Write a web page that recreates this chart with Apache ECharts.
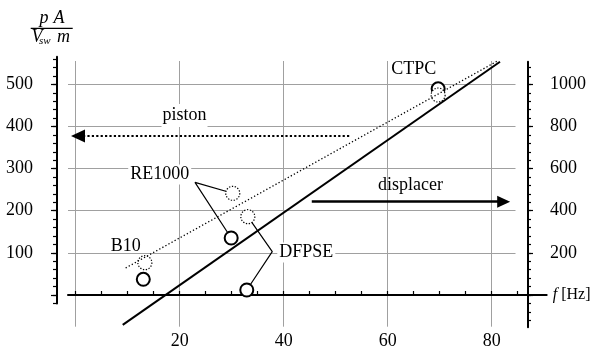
<!DOCTYPE html>
<html><head><meta charset="utf-8">
<script src="https://cdn.jsdelivr.net/npm/echarts@6/dist/echarts.min.js"></script>
<style>html,body{margin:0;padding:0;background:#fff}#c{width:592px;height:352px}</style>
</head><body><div id="c"></div>
<script>
// ---------------- data ----------------
const engines = ['B10', 'RE1000', 'DFPSE', 'CTPC'];
const pistonFreq = [13.3, 30.2, 33.1, 69.7];          // f [Hz]
const pistonValue = [76.7, 241.4, 185.9, 474.7];      // left axis
const displacerFreq = [13.0, 29.9, 32.9, 69.7];       // f [Hz]
const displacerValue = [74.5, 270.6, 23.7, 979];      // right axis
const pistonFitFreq = [9.6, 81.1];
const pistonFitValue = [64.1, 555.4];                 // left axis
const displacerFitFreq = [9.04, 81.6];
const displacerFitValue = [-142, 1107.5];             // right axis
const leftTickLabels = [100, 200, 300, 400, 500];
const rightTickLabels = [200, 400, 600, 800, 1000];
const xTickLabels = [20, 40, 60, 80];
const re1000Anchor = [22.94, 267.5];                  // left-axis units
const dfpseAnchor = [37.8, 102.8];
const pistonArrow = [52.6, 0.44, 377.4];              // from f, to f, left value
const displacerArrow = [45.4, 82.3, 442.9];           // from f, to f, right value

// ---------------- geometry ----------------
const X0 = 75.7, PX = 5.2, Y0 = 295, PY = 0.4213, RATIO = 2;
const fx = p => (p - X0) / PX;
const fy = p => (Y0 - p) / PY;
const FONT = "'Liberation Serif', 'Times New Roman', Times, serif";
const BLACK = '#000';
const GRIDC = '#a0a0a0';

function steps(a, b, s) { const r = []; for (let v = a; v <= b + 1e-9; v += s) r.push(v); return r; }

const main = { left: 68, top: 61, right: 515.5, bottom: 326.7 };
const leftAx = { x: 57, top: 56.7, bottom: Y0 + 20 * PY };
const rightAx = { x: 528, top: 61.7, bottom: 327.3 };
const xAx = { left: 68, right: 546.7 };

const plain = v => String(Math.round(v));
const labelStyle = { fontFamily: FONT, fontSize: 18, color: BLACK, formatter: plain };

const chart = echarts.init(document.getElementById('c'), null, { renderer: 'canvas' });

const option = {
  animation: false,
  backgroundColor: '#fff',
  textStyle: { fontFamily: FONT },
  grid: [
    { left: main.left, top: main.top, width: main.right - main.left, height: main.bottom - main.top },
    { left: leftAx.x, top: leftAx.top, width: 10, height: leftAx.bottom - leftAx.top },
    { left: rightAx.x - 8, top: rightAx.top, width: 8, height: rightAx.bottom - rightAx.top },
    { left: xAx.left, top: 200, width: xAx.right - xAx.left, height: Y0 - 200 }
  ],
  xAxis: [
    { gridIndex: 0, type: 'value', show: false, min: fx(main.left), max: fx(main.right) },
    { gridIndex: 1, type: 'value', show: false, min: 0, max: 1 },
    { gridIndex: 2, type: 'value', show: false, min: 0, max: 1 },
    {
      gridIndex: 3, type: 'value', position: 'bottom', min: fx(xAx.left), max: fx(xAx.right), z: 1,
      splitLine: { show: false },
      axisLine: { onZero: false, lineStyle: { color: BLACK, width: 2 } },
      axisTick: { inside: true, length: 4, customValues: steps(0, 85, 5), lineStyle: { color: BLACK, width: 1.2 } },
      axisLabel: Object.assign({ customValues: xTickLabels, margin: 37 }, labelStyle),
      name: '{i|f} [Hz]', nameLocation: 'end', nameGap: 6,
      nameTextStyle: { fontFamily: FONT, fontSize: 16, color: BLACK, rich: { i: { fontFamily: FONT, fontSize: 16, fontStyle: 'italic', color: BLACK } } }
    }
  ],
  yAxis: [
    { gridIndex: 0, type: 'value', show: false, min: fy(main.bottom), max: fy(main.top) },
    { gridIndex: 0, type: 'value', show: false, min: fy(main.bottom) * RATIO, max: fy(main.top) * RATIO },
    {
      gridIndex: 1, type: 'value', position: 'left', min: -20, max: fy(leftAx.top), z: 1,
      splitLine: { show: false },
      axisLine: { onZero: false, lineStyle: { color: BLACK, width: 2 } },
      axisTick: { length: 4, customValues: steps(-20, 560, 20), lineStyle: { color: BLACK, width: 1.2 } },
      axisLabel: { show: false }
    },
    {
      gridIndex: 1, type: 'value', position: 'left', min: -20, max: fy(leftAx.top), z: 1,
      splitLine: { show: false },
      axisLine: { show: false, onZero: false },
      axisTick: { length: 6, customValues: [0].concat(leftTickLabels), lineStyle: { color: BLACK, width: 1.2 } },
      axisLabel: Object.assign({ customValues: leftTickLabels, margin: 24 }, labelStyle)
    },
    {
      gridIndex: 2, type: 'value', position: 'right', min: fy(rightAx.bottom) * RATIO, max: fy(rightAx.top) * RATIO, z: 1,
      splitLine: { show: false },
      axisLine: { onZero: false, lineStyle: { color: BLACK, width: 2 } },
      axisTick: { length: 3, customValues: steps(-120, 1080, 40), lineStyle: { color: BLACK, width: 1.2 } },
      axisLabel: { show: false }
    },
    {
      gridIndex: 2, type: 'value', position: 'right', min: fy(rightAx.bottom) * RATIO, max: fy(rightAx.top) * RATIO, z: 1,
      splitLine: { show: false },
      axisLine: { show: false, onZero: false },
      axisTick: { length: 5, customValues: [0].concat(rightTickLabels), lineStyle: { color: BLACK, width: 1.2 } },
      axisLabel: Object.assign({ customValues: rightTickLabels, margin: 22 }, labelStyle)
    },
    { gridIndex: 3, type: 'value', show: false, min: 0, max: 1 }
  ],
  series: [
    {
      name: 'grid lines', type: 'line', xAxisIndex: 0, yAxisIndex: 0, data: [], z: 0, silent: true,
      markLine: {
        silent: true, symbol: ['none', 'none'], label: { show: false }, z: 0,
        lineStyle: { color: GRIDC, width: 1, type: 'solid' },
        emphasis: { disabled: true },
        data: leftTickLabels.map(v => ({ yAxis: v })).concat([0].concat(xTickLabels).map(v => ({ xAxis: v })))
      }
    },
    {
      name: 'RE1000 leader', type: 'line', xAxisIndex: 0, yAxisIndex: 0, z: 2, symbol: 'none', silent: true,
      lineStyle: { color: BLACK, width: 1.2 },
      data: [[pistonFreq[1], pistonValue[1]], re1000Anchor, [displacerFreq[1], displacerValue[1] / RATIO]]
    },
    {
      name: 'DFPSE leader', type: 'line', xAxisIndex: 0, yAxisIndex: 0, z: 2, symbol: 'none', silent: true,
      lineStyle: { color: BLACK, width: 1.2 },
      data: [[pistonFreq[2], pistonValue[2]], dfpseAnchor, [displacerFreq[2], displacerValue[2] / RATIO]]
    },
    {
      name: 'displacer engines', type: 'scatter', xAxisIndex: 0, yAxisIndex: 1, z: 3,
      symbol: 'circle', symbolSize: 13,
      itemStyle: { color: '#fff', borderColor: BLACK, borderWidth: 2, opacity: 1 },
      data: displacerFreq.map((f, i) => [f, displacerValue[i], engines[i]])
    },
    {
      name: 'piston engines', type: 'scatter', xAxisIndex: 0, yAxisIndex: 0, z: 4,
      symbol: 'circle', symbolSize: 14,
      itemStyle: { color: '#fff', borderColor: BLACK, borderWidth: 1.2, borderType: [1.3, 1.6], opacity: 1 },
      data: pistonFreq.map((f, i) => [f, pistonValue[i], engines[i]])
    },
    {
      name: 'piston fit', type: 'line', xAxisIndex: 0, yAxisIndex: 0, z: 5, symbol: 'none', clip: false,
      lineStyle: { color: BLACK, width: 1.3, type: [1.3, 2.2] },
      data: pistonFitFreq.map((f, i) => [f, pistonFitValue[i]])
    },
    {
      name: 'displacer fit', type: 'line', xAxisIndex: 0, yAxisIndex: 1, z: 5, symbol: 'none', clip: false,
      lineStyle: { color: BLACK, width: 2 },
      data: displacerFitFreq.map((f, i) => [f, displacerFitValue[i]])
    },
    {
      name: 'piston arrow', type: 'line', xAxisIndex: 0, yAxisIndex: 0, data: [], z: 5,
      markLine: {
        silent: true, symbol: ['none', 'triangle'], symbolSize: [13, 14], label: { show: false },
        lineStyle: { color: BLACK, width: 2.2, type: 'dotted' },
        data: [[{ coord: [pistonArrow[0], pistonArrow[2]] }, { coord: [pistonArrow[1], pistonArrow[2]] }]]
      }
    },
    {
      name: 'displacer arrow', type: 'line', xAxisIndex: 0, yAxisIndex: 1, data: [], z: 5,
      markLine: {
        silent: true, symbol: ['none', 'triangle'], symbolSize: [12, 13], label: { show: false },
        lineStyle: { color: BLACK, width: 2.5, type: 'solid' },
        data: [[{ coord: [displacerArrow[0], displacerArrow[2]] }, { coord: [displacerArrow[1], displacerArrow[2]] }]]
      }
    }
  ],
  graphic: []
};

function txt(text, x, y, opts) {
  opts = opts || {};
  const s = {
    text: text, x: x, y: y,
    fontFamily: FONT, fontSize: opts.size || 18, fontStyle: opts.italic ? 'italic' : 'normal',
    font: (opts.italic ? 'italic ' : '') + (opts.size || 18) + 'px ' + FONT,
    fill: BLACK,
    align: opts.align || 'center', textAlign: opts.align || 'center',
    verticalAlign: 'middle', textVerticalAlign: 'middle'
  };
  if (opts.bg) { s.backgroundColor = '#fff'; s.padding = opts.pad || [1, 2, 1, 2]; }
  return { type: 'text', z: 10, silent: true, style: s };
}

option.graphic = [
  txt('piston', 184.5, 115.5, { bg: true, pad: [1, 1, 4, 1] }),
  txt('displacer', 410.5, 185, {}),
  txt('RE1000', 159.7, 174.5, { bg: true }),
  txt('B10', 125.7, 246, {}),
  txt('DFPSE', 306.3, 252.5, { bg: true }),
  txt('CTPC', 413.7, 69.5, {}),
  // y-axis title  p A / (V_sw m)
  txt('p', 44, 18, { italic: true }),
  txt('A', 59, 18.5, { italic: true }),
  { type: 'line', z: 10, silent: true, shape: { x1: 30.7, y1: 28.3, x2: 72.7, y2: 28.3 }, style: { stroke: BLACK, lineWidth: 1.3 } },
  txt('V', 31.5, 37.2, { italic: true, align: 'left' }),
  txt('sw', 39, 41.3, { italic: true, align: 'left', size: 11 }),
  txt('m', 57, 37.2, { italic: true, align: 'left' })
];

chart.setOption(option);
</script>
</body></html>
